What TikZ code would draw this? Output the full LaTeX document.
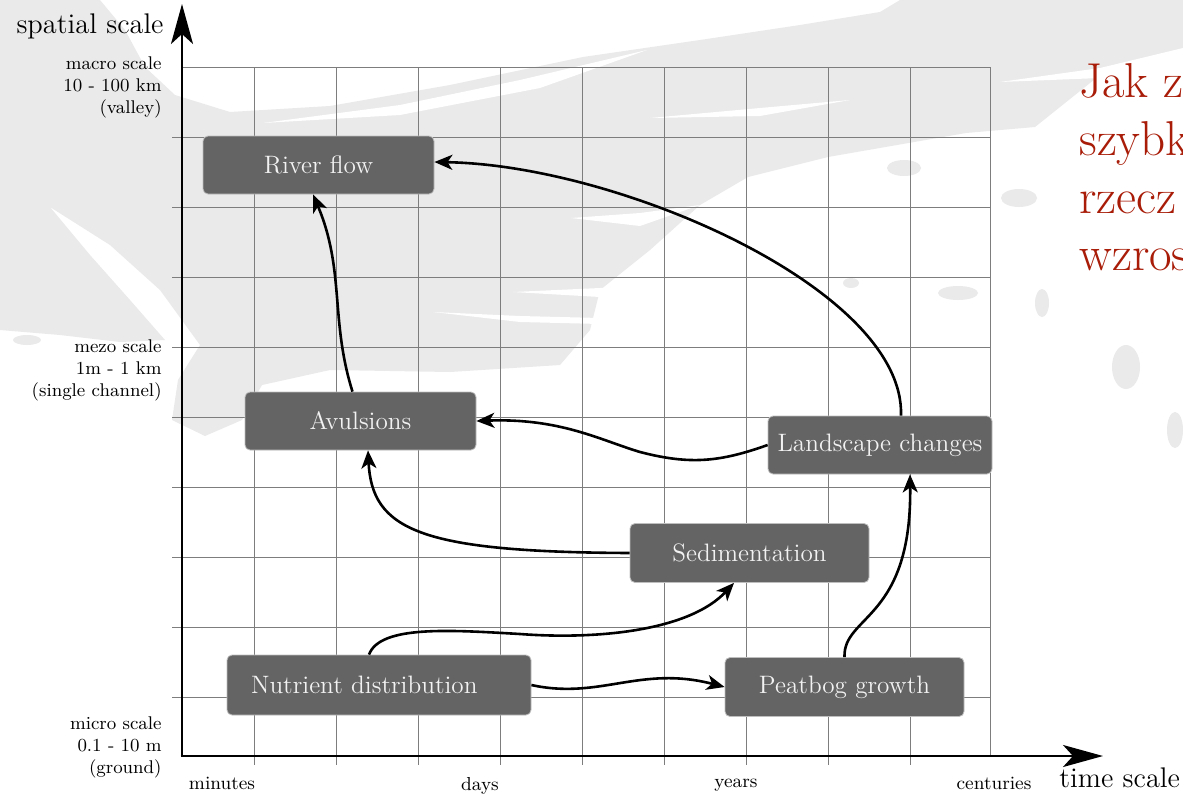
\documentclass[tikz,border=0pt]{standalone}
\usetikzlibrary{arrows.meta}
\definecolor{bggray}{RGB}{234,234,234}
\definecolor{boxgray}{RGB}{100,100,100}
\definecolor{boxedge}{RGB}{190,190,190}
\definecolor{boxtext}{RGB}{242,242,242}
\definecolor{gridgray}{RGB}{125,125,125}
\definecolor{titlered}{RGB}{168,28,8}
\begin{document}
\begin{tikzpicture}[x=0.5pt,y=-0.5pt,
  stage/.style={draw=boxedge, line width=0.4pt, fill=boxgray, rounded corners=2.5pt,
    text=boxtext, font=\fontsize{12.6}{15}\selectfont, inner sep=0pt, minimum height=29pt},
  link/.style={line width=1.3pt, -{Stealth[length=9pt,width=7.5pt,inset=2.5pt]}},
  axis/.style={line width=1.3pt, -{Stealth[length=20pt,width=11pt,inset=5pt]}},
  gridline/.style={gridgray, line width=0.5pt},
  scalelabel/.style={font=\fontsize{9.2}{11}\selectfont, align=right, anchor=east, inner sep=0pt},
  timelabel/.style={font=\fontsize{9.4}{11}\selectfont, anchor=base, inner sep=0pt},
  axistitle/.style={font=\fontsize{14.2}{16}\selectfont, inner sep=0pt},
  redline/.style={text=titlered, font=\fontsize{24.5}{28}\selectfont, anchor=base west, inner sep=0pt},
  brush/.style={fill=bggray, draw=none},
  streak/.style={fill=white, draw=none}
]
\useasboundingbox (0,0) rectangle (1183,793);
\fill[white] (0,0) rectangle (1183,793);

% background brush strokes
\path[brush] (0,0) -- (100,0) -- (125,30) -- (145,67) -- (175,95) -- (230,112) -- (330,106)
  -- (450,85) -- (583,57) -- (700,40) -- (800,25) -- (880,12) -- (900,0)
  -- (1183,0) -- (1183,55) -- (1100,75) -- (1035,127) -- (966,133)
  -- (828,157) -- (748,177) -- (700,205) -- (650,250) -- (600,290) -- (590,330)
  -- (560,365) -- (450,372) -- (330,370) -- (262,385) -- (242,420) -- (205,436)
  -- (172,420) -- (178,380) -- (200,345) -- (160,290) -- (110,245) -- (50,207)
  -- (90,255) -- (130,300) -- (165,340) -- (120,342) -- (60,335) -- (0,330) -- cycle;
\path[streak] (263,123) -- (400,105) -- (520,80) -- (647,50) -- (540,88) -- (400,115) -- cycle;
\path[streak] (571,218) -- (640,213) -- (700,205) -- (640,226) -- cycle;
\path[streak] (433,312) -- (520,316) -- (600,318) -- (600,324) -- (520,322) -- cycle;
\path[streak] (513,292) -- (600,288) -- (640,286) -- (600,297) -- cycle;
\path[streak] (630,273) -- (660,268) -- (680,266) -- (650,277) -- cycle;
\path[streak] (1000,82) -- (1100,68) -- (1183,48) -- (1183,58) -- (1100,78) -- cycle;
\path[streak] (650,118) -- (760,108) -- (850,100) -- (760,116) -- cycle;
\path[brush] (904,168) ellipse (17 and 8);
\path[brush] (1019,198) ellipse (18 and 9);
\path[brush] (1042,303) ellipse (7 and 14);
\path[brush] (958,293) ellipse (20 and 7);
\path[brush] (851,283) ellipse (8 and 5);
\path[brush] (1126,367) ellipse (14 and 22);
\path[brush] (27,340) ellipse (14 and 5);
\path[brush] (1175,430) ellipse (8 and 18);

% grid
\foreach \x in {254,336,...,910} \draw[gridline] (\x,67) -- (\x,765);
\draw[gridline] (990,67) -- (990,756);
\foreach \y in {137,207,...,697} \draw[gridline] (172,\y) -- (990,\y);
\draw[gridline] (182,67) -- (990,67);

% axes
\coordinate (origin) at (182,756);
\coordinate (ytip) at (182,4);
\coordinate (xtip) at (1103,756);
\draw[axis] (origin) -- (ytip);
\draw[axis] ([xshift=-0.65pt]origin) -- (xtip);

\node[axistitle, anchor=base east] (ytitle) at (164,33) {spatial scale};
\node[axistitle, anchor=base west] (xtitle) at (1059,787) {time scale};

\node[scalelabel] (macro) at (162,87) {macro scale\\10 - 100 km\\(valley)};
\node[scalelabel] (mezo) at (162,370) {mezo scale\\1m - 1 km\\(single channel)};
\node[scalelabel] (micro) at (162,747) {micro scale\\0.1 - 10 m\\(ground)};

\node[timelabel] (minutes) at (222,789) {minutes};
\node[timelabel] (days) at (480,790) {days};
\node[timelabel] (years) at (736,787) {years};
\node[timelabel] (centuries) at (994,789) {centuries};

% boxes
\node[stage, minimum width=115.5pt] (river) at (318.5,165) {River flow};
\node[stage, minimum width=115.5pt] (avul) at (360.5,421) {Avulsions};
\node[stage, minimum width=112pt] (land) at (880,445) {Landscape changes};
\node[stage, minimum width=119.5pt, minimum height=29.5pt] (sed) at (749.5,553) {Sedimentation};
\node[stage, minimum width=152pt, minimum height=30pt, text width=128pt, align=left] (nutr) at (379,685) {Nutrient distribution};
\node[stage, minimum width=119.5pt, minimum height=29.5pt] (peat) at (844.5,687) {Peatbog growth};

% connectors
\draw[link] ([xshift=-4pt]avul.north) .. controls (330,320) and (345,270) .. ([xshift=-2.75pt]river.south);
\draw[link] ([xshift=10.5pt]land.north) .. controls (905,290) and (620,165) .. ([yshift=1.5pt]river.east);
\draw[link] (land.west) .. controls (720,462) and (690,465) .. (640,452)
  .. controls (600,440) and (560,418) .. (avul.east);
\draw[link] (sed.west) .. controls (420,552) and (372,530) .. ([xshift=3.75pt]avul.south);
\draw[link] ([xshift=-5pt]nutr.north) .. controls (380,625) and (450,630) .. (520,634)
  .. controls (600,640) and (690,630) .. ([xshift=-7.75pt]sed.south);
\draw[link] (nutr.east) .. controls (600,700) and (640,665) .. (peat.west);
\draw[link] (peat.north) .. controls (843,615) and (912,620) .. ([xshift=15pt]land.south);

% red heading (cut by the page edge)
\node[redline] (l1) at (1079,97) {Jak z};
\node[redline] (l2) at (1079,155) {szybk};
\node[redline] (l3) at (1079,213) {rzecz};
\node[redline] (l4) at (1079,270) {wzros};
\end{tikzpicture}
\end{document}
